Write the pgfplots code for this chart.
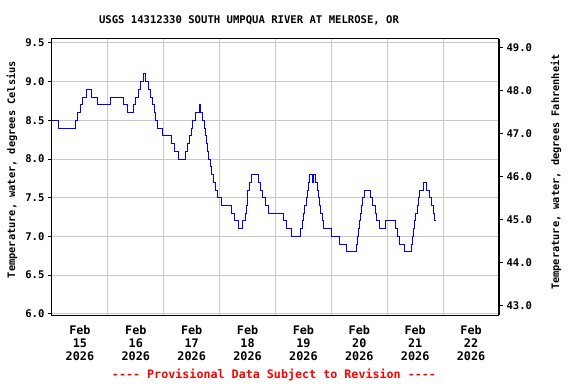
\documentclass[border=0pt]{standalone}
\usepackage{pgfplots}
\pgfplotsset{compat=1.18}
\usepackage{fontspec}
\setmainfont{DejaVu Sans Mono}
\definecolor{gridgray}{RGB}{200,200,200}
\definecolor{lineblue}{RGB}{0,0,255}
\begin{document}
\begin{tikzpicture}
\useasboundingbox (-52bp,-69bp) rectangle (524bp,315bp);
\begin{axis}[
 at={(0,0)}, anchor=south west,
 scale only axis, width=447bp, height=276bp,
 xmin=0, xmax=8, ymin=5.985, ymax=9.55,
 xtick={0.5,1.5,2.5,3.5,4.5,5.5,6.5,7.5},
 xticklabels={{Feb\\15\\2026},{Feb\\16\\2026},{Feb\\17\\2026},{Feb\\18\\2026},{Feb\\19\\2026},{Feb\\20\\2026},{Feb\\21\\2026},{Feb\\22\\2026}},
 xtick style={draw=none},
 minor xtick={1,2,3,4,5,6,7},
 minor tick length=0pt,
 xminorgrids, ymajorgrids,
 minor grid style={gridgray, line width=0.8bp},
 major grid style={gridgray, line width=0.8bp},
 ytick={6,6.5,7,7.5,8,8.5,9,9.5},
 ytick pos=left,
 tick align=outside,
 major tick length=4bp,
 tick style={black, line width=0.8bp},
 axis line style={black, line width=1bp},
 /pgf/number format/assume math mode=true,
 yticklabel style={font=\fontsize{10.6bp}{12bp}\selectfont\bfseries, /pgf/number format/.cd, fixed, fixed zerofill, precision=1},
 xticklabel style={font=\fontsize{11.8bp}{13bp}\selectfont\bfseries, align=center, yshift=-3bp},
 ylabel={Temperature, water, degrees Celsius},
 ylabel style={font=\fontsize{10.3bp}{12bp}\selectfont\bfseries, at={(axis description cs:-0.0895,0.527)}, anchor=center},
]
\addplot[const plot, lineblue, line width=0.9bp] coordinates {
(0.00,8.5) (0.11,8.4) (0.42,8.5) (0.46,8.6) (0.51,8.7) (0.55,8.8) (0.61,8.9)
(0.70,8.8) (0.82,8.7) (1.04,8.8) (1.27,8.7) (1.35,8.6) (1.46,8.7) (1.50,8.8)
(1.54,8.9) (1.58,9.0) (1.64,9.1) (1.665,9.0) (1.72,8.9) (1.77,8.8) (1.80,8.7)
(1.83,8.6) (1.86,8.5) (1.89,8.4) (1.97,8.3) (2.14,8.2) (2.20,8.1) (2.27,8.0)
(2.39,8.1) (2.43,8.2) (2.46,8.3) (2.49,8.4) (2.52,8.5) (2.565,8.6) (2.64,8.7)
(2.655,8.6) (2.70,8.5) (2.726,8.4) (2.744,8.3) (2.762,8.2) (2.774,8.1) (2.80,8.0)
(2.833,7.9) (2.857,7.8) (2.89,7.7) (2.92,7.6) (2.964,7.5) (3.04,7.4) (3.22,7.3)
(3.26,7.2) (3.34,7.1) (3.417,7.2) (3.458,7.3) (3.488,7.4) (3.497,7.5) (3.506,7.6)
(3.53,7.7) (3.577,7.8) (3.696,7.7) (3.726,7.6) (3.762,7.5) (3.815,7.4) (3.875,7.3)
(4.143,7.2) (4.20,7.1) (4.29,7.0) (4.452,7.1) (4.48,7.2) (4.50,7.3) (4.52,7.4)
(4.545,7.5) (4.565,7.6) (4.585,7.7) (4.60,7.8) (4.655,7.7) (4.68,7.8) (4.71,7.7)
(4.744,7.6) (4.762,7.5) (4.786,7.4) (4.81,7.3) (4.833,7.2) (4.863,7.1) (5.00,7.0)
(5.14,6.9) (5.27,6.8) (5.44,6.9) (5.46,7.0) (5.48,7.1) (5.50,7.2) (5.52,7.3)
(5.54,7.4) (5.56,7.5) (5.595,7.6) (5.696,7.5) (5.744,7.4) (5.78,7.3) (5.80,7.2)
(5.863,7.1) (5.97,7.2) (6.14,7.1) (6.18,7.0) (6.22,6.9) (6.31,6.8) (6.43,6.9)
(6.45,7.0) (6.47,7.1) (6.49,7.2) (6.51,7.3) (6.536,7.4) (6.555,7.5) (6.577,7.6)
(6.64,7.7) (6.70,7.6) (6.76,7.5) (6.79,7.4) (6.82,7.3) (6.85,7.2) (6.865,7.2)
};
\end{axis}
\begin{axis}[
 at={(0,0)}, anchor=south west,
 scale only axis, width=447bp, height=276bp,
 xmin=0, xmax=8, ymin=42.773, ymax=49.19,
 axis x line=none, axis y line*=right,
 ytick={43,44,45,46,47,48,49},
 tick align=outside,
 major tick length=4bp,
 tick style={black, line width=0.8bp},
 axis line style={black, line width=1bp},
 /pgf/number format/assume math mode=true,
 yticklabel style={font=\fontsize{10.6bp}{12bp}\selectfont\bfseries, /pgf/number format/.cd, fixed, fixed zerofill, precision=1},
 ylabel={Temperature, water, degrees Fahrenheit},
 ylabel style={font=\fontsize{10.3bp}{12bp}\selectfont\bfseries, at={(axis description cs:1.1275,0.518)}, anchor=center},
]
\end{axis}
\node[font=\fontsize{10.6bp}{12bp}\selectfont\bfseries] at (197bp,295bp) {USGS 14312330 SOUTH UMPQUA RIVER AT MELROSE, OR};
\node[text=red, font=\fontsize{11.7bp}{13bp}\selectfont\bfseries] at (222bp,-60bp) {{-}{-}{-}{-} Provisional Data Subject to Revision {-}{-}{-}{-}};
\end{tikzpicture}
\end{document}
